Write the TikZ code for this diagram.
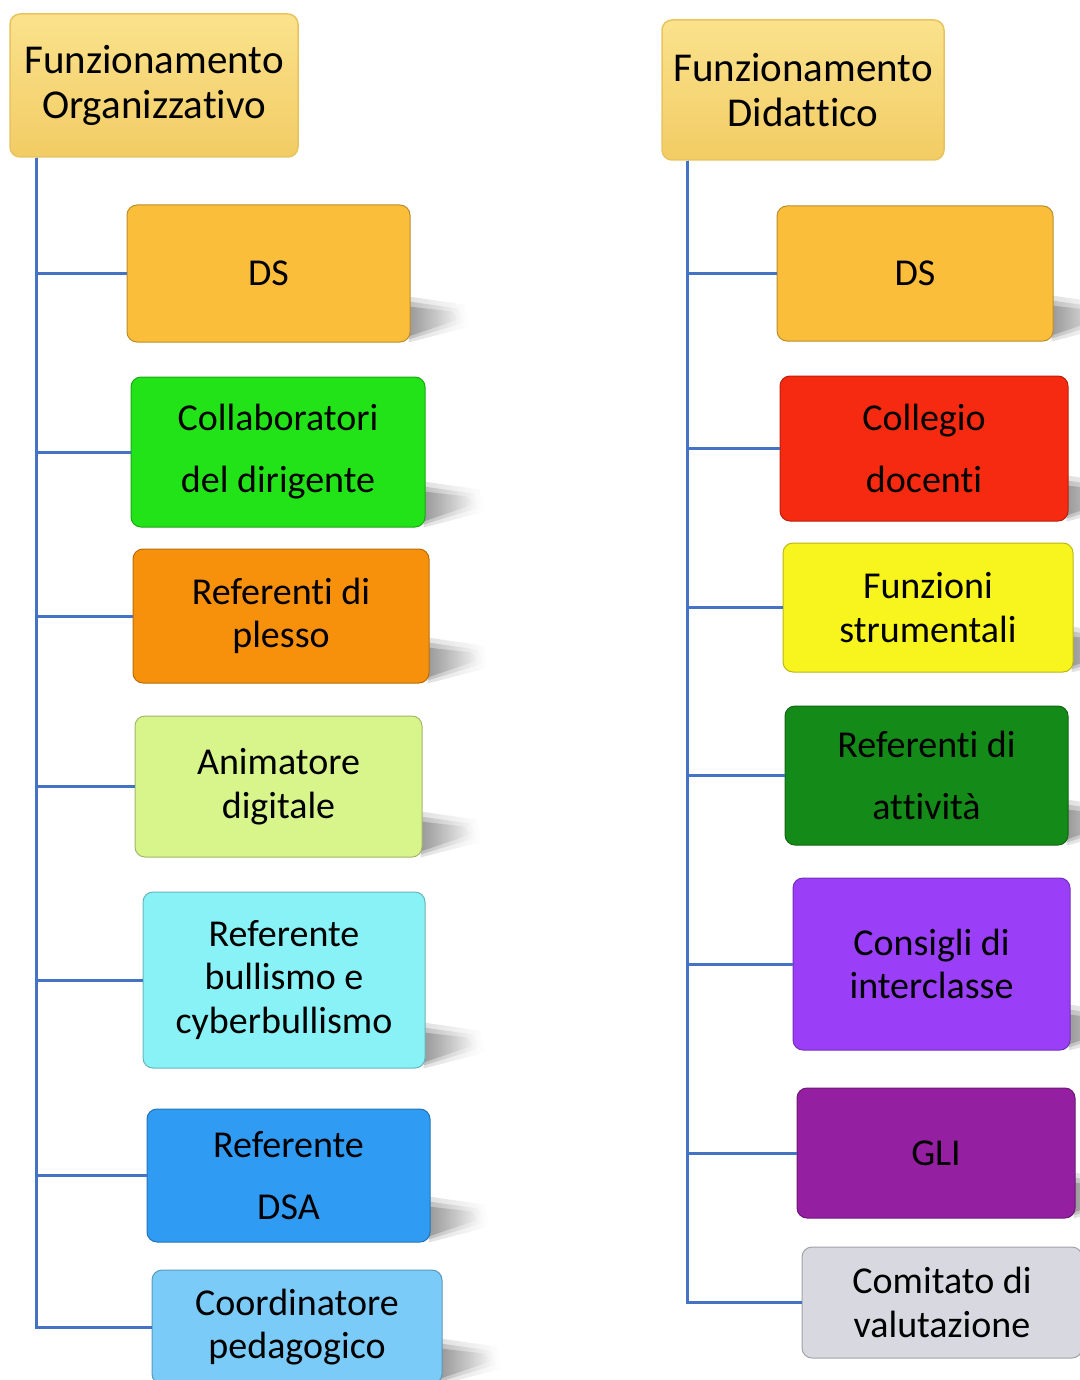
\documentclass[tikz,border=0pt]{standalone}
\usepackage{fontspec}
\setmainfont{Carlito}[Ligatures={NoCommon,NoContextual}, RawFeature=-calt, RawFeature=-clig, RawFeature=-liga]
\usetikzlibrary{calc,backgrounds,fadings}
\tikzfading[name=fadeR, left color=transparent!0, right color=transparent!100]
\newcommand\nolig{\kern0pt\relax}
\definecolor{hdrtop}{RGB}{250,226,140}
\definecolor{hdrbot}{RGB}{242,204,100}
\definecolor{hdrline}{RGB}{232,196,96}
\definecolor{cgold}{RGB}{250,190,58}
\definecolor{cgreen}{RGB}{34,226,24}
\definecolor{corange}{RGB}{247,145,12}
\definecolor{clime}{RGB}{216,245,140}
\definecolor{ccyan}{RGB}{136,242,246}
\definecolor{cblue}{RGB}{47,155,243}
\definecolor{clblue}{RGB}{122,203,248}
\definecolor{cred}{RGB}{245,42,16}
\definecolor{cyellow}{RGB}{248,244,30}
\definecolor{cdgreen}{RGB}{20,138,24}
\definecolor{cpurple}{RGB}{155,62,247}
\definecolor{cmagenta}{RGB}{148,31,160}
\definecolor{cgray}{RGB}{216,216,224}
\definecolor{link}{RGB}{68,114,196}
\tikzset{
  x=1pt, y=-1pt,
  hdr/.style={draw=hdrline, line width=1.5pt, rounded corners=10pt, top color=hdrtop, bottom color=hdrbot,
    inner sep=0pt, align=center, font=\fontsize{41}{45}\selectfont},
  bx/.style={draw=#1!75!black, line width=1pt, rounded corners=10pt, fill=#1, inner sep=0pt,
    align=center, font=\fontsize{38}{43.5}\selectfont},
  wide/.style={font=\fontsize{38}{62}\selectfont},
  conn/.style={draw=link, line width=3pt},
  shd/.style={fill=black, draw=none, opacity=#1, path fading=fadeR},
}
\begin{document}
\begin{tikzpicture}
\useasboundingbox (0,0) rectangle (1079,1380);
% left column
\node[hdr, minimum width=288, minimum height=143] (hl) at (154,85.5) {Funzionamento\\Organizzat\nolig ivo};
\node[bx=cgold, minimum width=283, minimum height=137] (l1) at (268.5,273.5) {DS};
\node[bx=cgreen, wide, minimum width=294, minimum height=150] (l2) at (278,452) {Collaboratori\\del dirigente};
\node[bx=corange, minimum width=296, minimum height=134] (l3) at (281,616) {Referent\nolig i di\\plesso};
\node[bx=clime, minimum width=287, minimum height=141] (l4) at (278.5,786.5) {Animatore\\digitale};
\node[bx=ccyan, minimum width=282, minimum height=176] (l5) at (284,980) {Referente\\bullismo e\\cyberbullismo};
\node[bx=cblue, wide, minimum width=283, minimum height=133] (l6) at (288.5,1175.5) {Referente\\DSA};
\node[bx=clblue, minimum width=290, minimum height=114] (l7) at (297,1327) {Coordinatore\\pedagogico};
% right column
\node[hdr, minimum width=282, minimum height=140] (hr) at (803,90) {Funzionamento\\Didat\nolig t\nolig ico};
\node[bx=cgold, minimum width=276, minimum height=135] (r1) at (915,273.5) {DS};
\node[bx=cred, wide, minimum width=288, minimum height=145] (r2) at (924,448.5) {Collegio\\docenti};
\node[bx=cyellow, minimum width=290, minimum height=129] (r3) at (928,607.5) {Funzioni\\strumentali};
\node[bx=cdgreen, wide, minimum width=283, minimum height=139] (r4) at (926.5,775.5) {Referent\nolig i di\\at\nolig t\nolig ivit\`a};
\node[bx=cpurple, minimum width=277, minimum height=172] (r5) at (931.5,964) {Consigli di\\interclasse};
\node[bx=cmagenta, minimum width=278, minimum height=130] (r6) at (936,1153) {GLI};
\node[bx=cgray, minimum width=280, minimum height=111] (r7) at (942,1302.5) {Comitato di\\valutazione};
% connectors
\coordinate (lt) at ([xshift=27pt]hl.south west);
\coordinate (rt) at ([xshift=26pt]hr.south west);
\foreach \n in {l1,l2,l3,l4,l5,l6,l7} \draw[conn] (lt) |- (\n.west);
\foreach \n in {r1,r2,r3,r4,r5,r6,r7} \draw[conn] (rt) |- (\n.west);
% shadows
\begin{scope}[on background layer]
\foreach \n in {l1,l2,l3,l4,l5,l6,l7,r1,r2,r3,r4,r5,r6,r7} {
  \fill[shd=0.12] ($(\n.south east)+(-2,-46)$) -- ($(\n.south east)+(54,-38)$)
     -- ($(\n.south east)+(60,-16)$) -- ($(\n.south east)+(-2,0)$) -- cycle;
  \fill[shd=0.15] ($(\n.south east)+(-2,-41)$) -- ($(\n.south east)+(48,-34)$)
     -- ($(\n.south east)+(54,-20)$) -- ($(\n.south east)+(-2,-3)$) -- cycle;
  \fill[shd=0.2] ($(\n.south east)+(-2,-36)$) -- ($(\n.south east)+(42,-31)$)
     -- ($(\n.south east)+(48,-23)$) -- ($(\n.south east)+(-2,-6)$) -- cycle;
}
\end{scope}
\end{tikzpicture}
\end{document}
